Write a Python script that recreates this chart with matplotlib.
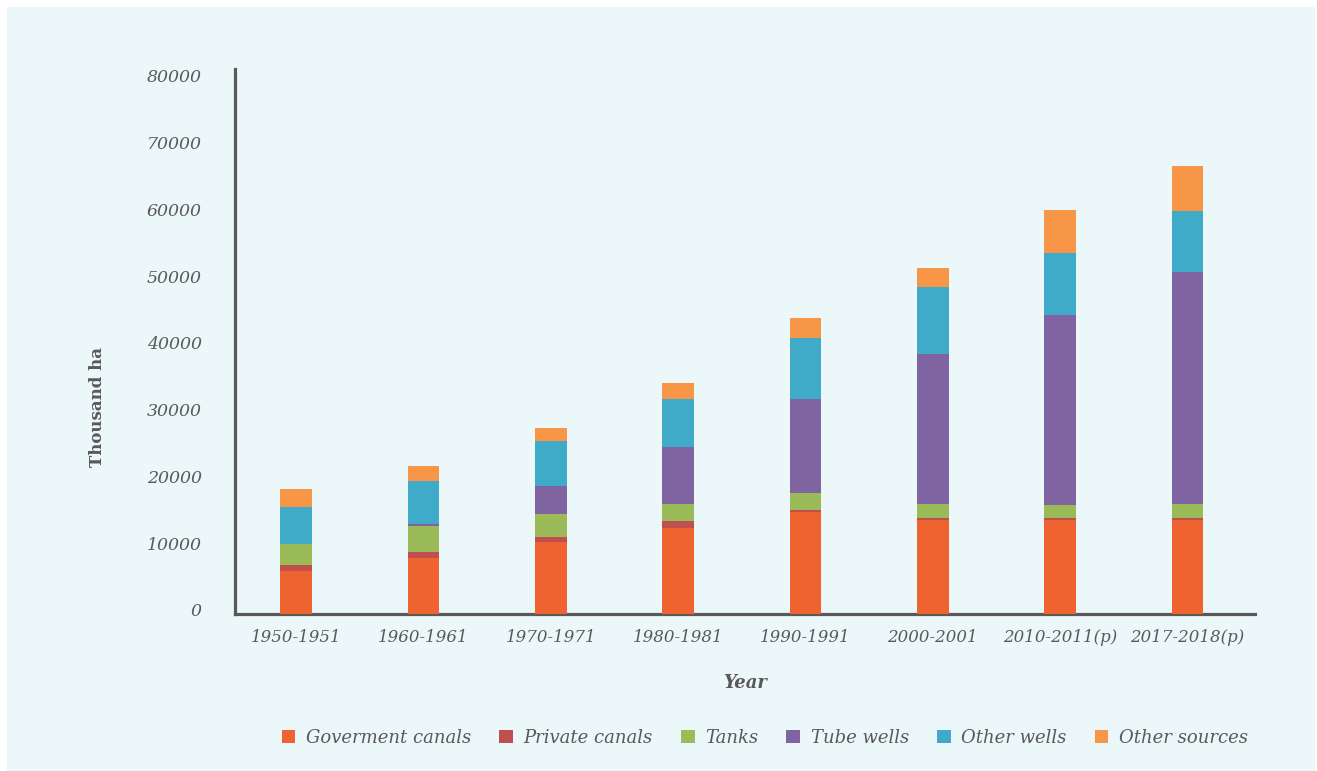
import matplotlib
matplotlib.use("Agg")
import matplotlib.pyplot as plt
import matplotlib.transforms as mtransforms
import numpy as np
from matplotlib.patches import Rectangle

years = ["1950-1951", "1960-1961", "1970-1971", "1980-1981",
         "1990-1991", "2000-2001", "2010-2011(p)", "2017-2018(p)"]

govt_canals = [6400, 8400, 10800, 12900, 15300, 14100, 14100, 14100]
private_canals = [900, 900, 750, 1050, 300, 300, 300, 300]
tanks = [3150, 3900, 3450, 2550, 2550, 2100, 1950, 2100]
tube_wells = [0, 300, 4200, 8550, 14100, 22450, 28450, 34750]
other_wells = [5550, 6450, 6750, 7200, 9000, 10050, 9300, 9150]
other_sources = [2700, 2250, 1950, 2400, 3000, 2850, 6450, 6750]

series = [
    ("Goverment canals", govt_canals, "#EE632F"),
    ("Private canals", private_canals, "#C0504D"),
    ("Tanks", tanks, "#9BBB59"),
    ("Tube wells", tube_wells, "#8064A2"),
    ("Other wells", other_wells, "#3FABC8"),
    ("Other sources", other_sources, "#F79646"),
]

BG = "#ECF7F9"
GREY = "#595959"
W, H = 1317, 771

fig = plt.figure(figsize=(W / 100, H / 100), dpi=100)
fig.patch.set_facecolor("white")
fig.patches.append(Rectangle((7 / W, 0), (1315 - 7) / W, (H - 7) / H,
                             transform=fig.transFigure, facecolor=BG,
                             edgecolor="none", zorder=-10))

ax = fig.add_axes([235 / W, 1 - 614 / H, (1255 - 235) / W, (614 - 69) / H])
ax.set_facecolor("none")

x = np.arange(len(years))
bottom = np.zeros(len(years))
for name, vals, col in series:
    vals = np.array(vals, dtype=float)
    ax.bar(x, vals, width=0.25, bottom=bottom, color=col, label=name,
           linewidth=0, zorder=3)
    bottom += vals

ax.set_xlim(-0.48, 7.53)
ax.set_ylim(0, 81600)
ax.set_yticks(np.arange(0, 80001, 10000))

ax.set_xticks(x)
ax.set_xticklabels(years, family="DejaVu Serif", style="italic", size=12,
                   color=GREY)
ax.set_yticklabels([str(v) for v in range(0, 80001, 10000)],
                   family="DejaVu Serif", style="italic", size=12.5,
                   color=GREY)
ax.tick_params(axis="both", length=0)
ax.tick_params(axis="x", pad=11)
ax.tick_params(axis="y", pad=24)

# nudge the value labels up a little
lift = mtransforms.ScaledTranslation(0, 4 / 100, fig.dpi_scale_trans)
for lbl in ax.get_yticklabels():
    lbl.set_transform(lbl.get_transform() + lift)

for s in ["top", "right"]:
    ax.spines[s].set_visible(False)
for s in ["left", "bottom"]:
    ax.spines[s].set_color(GREY)
    ax.spines[s].set_linewidth(2.3)

fig.text(97 / W, 1 - 407 / H, "Thousand ha", family="DejaVu Serif",
         weight="bold", size=12, color=GREY, rotation=90,
         ha="center", va="center")
ax.set_xlabel("Year", family="DejaVu Serif", weight="bold", style="italic",
              size=13, color=GREY, labelpad=20)

leg = fig.legend(loc="center", bbox_to_anchor=(765 / W, 1 - 738 / H), ncol=6,
                 frameon=False, handlelength=0.75, handleheight=0.75,
                 handletextpad=0.6, columnspacing=1.55,
                 prop=dict(family="DejaVu Serif", style="italic", size=13))
for t in leg.get_texts():
    t.set_color(GREY)

fig.savefig("out.png", dpi=100, facecolor=fig.get_facecolor())
